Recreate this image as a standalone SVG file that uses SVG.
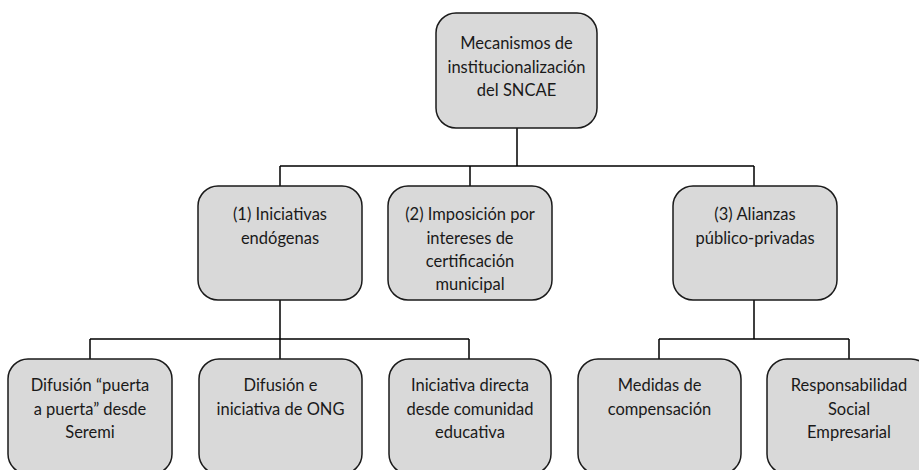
<svg xmlns="http://www.w3.org/2000/svg" width="919" height="470" viewBox="0 0 919 470">
<style>
.box{fill:#d9d9d9;stroke:#1a1a1a;stroke-width:1.5}
.t{font-family:Lato,"Open Sans",sans-serif;font-size:16.5px;fill:#1a1a1a;text-anchor:middle}
.c{stroke:#000;stroke-width:1.5;fill:none}
</style>
<rect width="919" height="470" fill="#fff"/>
<g id="connectors">
<path class="c" d="M517 128V166M280 166H754M280 166V186M470 166V186M754 166V186"/>
<path class="c" d="M280 300V339M90 339H469M90 339V359M280 339V359M469 339V359"/>
<path class="c" d="M754 300V339M659 339H849M659 339V359M849 339V359"/>
</g>
<g id="root">
<rect class="box" x="436" y="13" width="161" height="115" rx="20"/>
<text class="t" x="516.5" y="49">Mecanismos de</text>
<text class="t" x="516.5" y="72.5">institucionalización</text>
<text class="t" x="516.5" y="96">del SNCAE</text>
</g>
<g id="n1">
<rect class="box" x="198" y="186" width="164" height="114" rx="20"/>
<text class="t" x="280" y="220">(1) Iniciativas</text>
<text class="t" x="280" y="243.5">endógenas</text>
</g>
<g id="n2">
<rect class="box" x="388" y="186" width="164" height="114" rx="20"/>
<text class="t" x="470" y="220">(2) Imposición por</text>
<text class="t" x="470" y="243.5">intereses de</text>
<text class="t" x="470" y="267">certificación</text>
<text class="t" x="470" y="290">municipal</text>
</g>
<g id="n3">
<rect class="box" x="673" y="186" width="164" height="114" rx="20"/>
<text class="t" x="755" y="220">(3) Alianzas</text>
<text class="t" x="755" y="243.5">público-privadas</text>
</g>
<g id="a">
<rect class="box" x="8" y="359" width="164" height="115" rx="20"/>
<text class="t" x="90" y="391">Difusión “puerta</text>
<text class="t" x="90" y="415">a puerta” desde</text>
<text class="t" x="90" y="438">Seremi</text>
</g>
<g id="b">
<rect class="box" x="199" y="359" width="163" height="115" rx="20"/>
<text class="t" x="280.5" y="391">Difusión e</text>
<text class="t" x="280.5" y="415">iniciativa de ONG</text>
</g>
<g id="c">
<rect class="box" x="389" y="359" width="162" height="115" rx="20"/>
<text class="t" x="470" y="391">Iniciativa directa</text>
<text class="t" x="470" y="415">desde comunidad</text>
<text class="t" x="470" y="438">educativa</text>
</g>
<g id="d">
<rect class="box" x="578" y="359" width="163" height="115" rx="20"/>
<text class="t" x="659.5" y="391">Medidas de</text>
<text class="t" x="659.5" y="415">compensación</text>
</g>
<g id="e">
<rect class="box" x="767" y="359" width="164" height="115" rx="20"/>
<text class="t" x="849" y="391">Responsabilidad</text>
<text class="t" x="849" y="415">Social</text>
<text class="t" x="849" y="438">Empresarial</text>
</g>
</svg>
